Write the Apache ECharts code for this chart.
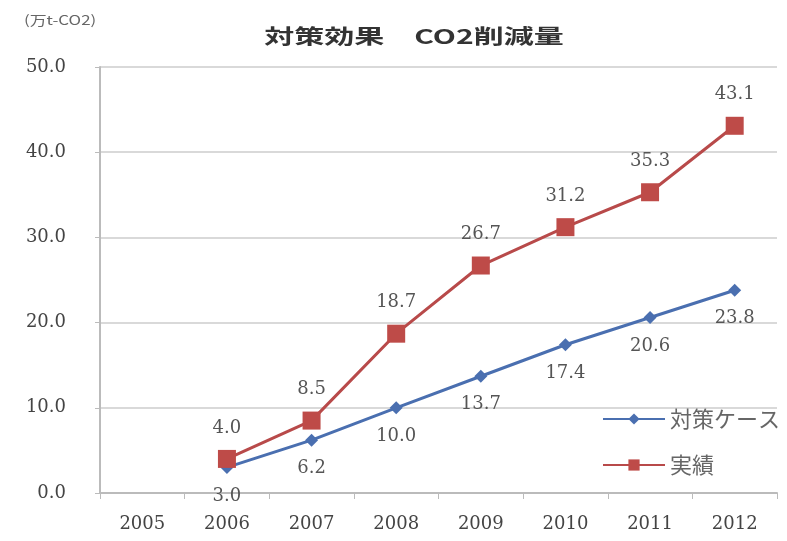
<!DOCTYPE html>
<html><head><meta charset="utf-8">
<script src="https://cdn.jsdelivr.net/npm/echarts@6/dist/echarts.min.js"></script>
<style>html,body{margin:0;padding:0;background:#fff}#c{width:787px;height:541px}</style>
</head><body><div id="c"></div>
<script>
const years = ['2005','2006','2007','2008','2009','2010','2011','2012'];
const planCase = [null, 3.0, 6.2, 10.0, 13.7, 17.4, 20.6, 23.8];
const actual = [null, 4.0, 8.5, 18.7, 26.7, 31.2, 35.3, 43.1];
const yTicks = [0, 10, 20, 30, 40, 50];
const titleText = '対策効果　CO2削減量';
const unitText = '(万t-CO2)';

const chart = echarts.init(document.getElementById('c'));
const font = '"Noto Sans CJK JP", sans-serif';
const numFont = 'DejaVu Serif, serif';
chart.setOption({
  animation: false,
  graphic: [
    {type: 'text', x: 414, y: 36, scaleX: 1.5, style: {text: titleText, font: 'bold 20px ' + font, fill: '#333', textAlign: 'center', textVerticalAlign: 'middle'}},
    {type: 'text', x: 24, y: 20, scaleX: 1.3, style: {text: unitText, font: '13px ' + font, fill: '#666', textVerticalAlign: 'middle'}}
  ],
  grid: {left: 100, right: 10, top: 67, bottom: 48},
  legend: {orient: 'vertical', right: 2, top: 403, itemGap: 24, itemWidth: 62, itemHeight: 14,
    textStyle: {fontFamily: font, fontSize: 22, color: '#666'},
    data: ['対策ケース', '実績']},
  xAxis: {type: 'category', data: years, boundaryGap: true,
    axisLine: {lineStyle: {color: '#bbb', width: 2}},
    axisTick: {show: true, alignWithLabel: false, length: 6, lineStyle: {color: '#bbb'}},
    axisLabel: {fontFamily: numFont, fontSize: 18, color: '#444', margin: 22}},
  yAxis: {type: 'value', min: yTicks[0], max: yTicks[yTicks.length - 1], interval: 10,
    axisLine: {show: true, lineStyle: {color: '#bbb', width: 2}},
    axisTick: {show: true, length: 5, lineStyle: {color: '#bbb'}},
    splitLine: {lineStyle: {color: '#d9d9d9', width: 2}},
    axisLabel: {fontFamily: numFont, fontSize: 18, color: '#444', margin: 34,
      formatter: v => v.toFixed(1)}},
  series: [
    {name: '対策ケース', type: 'line', data: planCase, symbol: 'diamond', symbolSize: 13,
      lineStyle: {color: '#4a6fb0', width: 3}, itemStyle: {color: '#4a6fb0'},
      label: {show: true, position: 'bottom', distance: 13, fontFamily: numFont, fontSize: 18, color: '#555',
        formatter: p => p.value.toFixed(1)}},
    {name: '実績', type: 'line', data: actual, symbol: 'rect', symbolSize: 18,
      lineStyle: {color: '#b84a4a', width: 3}, itemStyle: {color: '#be4b48'},
      label: {show: true, position: 'top', distance: 13, fontFamily: numFont, fontSize: 18, color: '#555',
        formatter: p => p.value.toFixed(1)}}
  ]
});
</script></body></html>
